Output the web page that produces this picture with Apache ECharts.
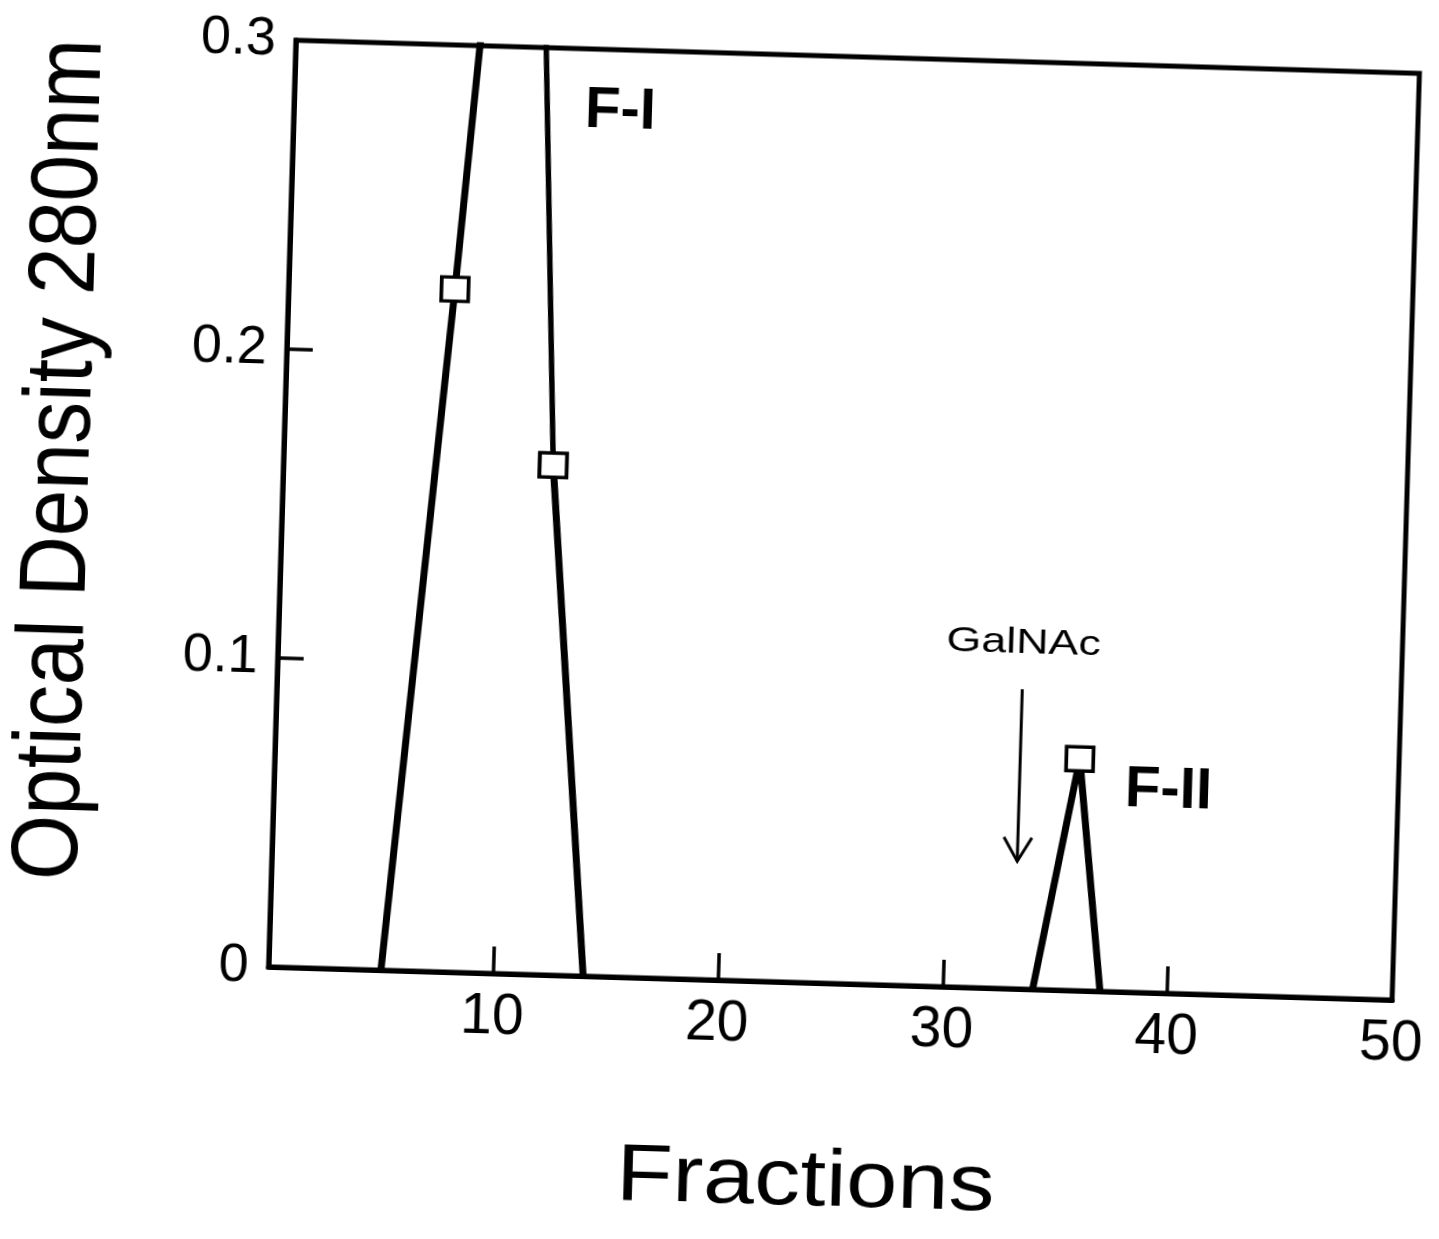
<!DOCTYPE html>
<html><head><meta charset="utf-8">
<script src="https://cdn.jsdelivr.net/npm/echarts@6/dist/echarts.min.js"></script>
<style>html,body{margin:0;background:#fff;overflow:hidden}#c{width:1439px;height:1239px;transform:rotate(1.69deg);transform-origin:50% 50%}</style></head>
<body><div id="c"></div>
<script>
// ---- data ----
const f1Fractions = [5, 7.4, 10, 12, 14];
const f1OD        = [0, 0.221, 0.48, 0.165, 0];
const f1Marked    = [false, true, false, true, false];
const f2Fractions = [34, 35.8, 37];
const f2OD        = [0, 0.075, 0];
const f2Marked    = [false, true, false];
const xTickLabels = ['', '10', '20', '30', '40', '50'];
const yTickLabels = ['0', '0.1', '0.2', '0.3'];
const peakLabels  = [{text: 'F-I', x: 12.95, y: 0.28}, {text: 'F-II', x: 37.85, y: 0.0655}];
const arrowNote   = {text: 'GalNAc', x: 33.15, yText: 0.112, yFrom: 0.097, yTo: 0.0413};
const xTitle = 'Fractions';
const yTitle = 'Optical Density 280nm';

const FONT = 'Liberation Sans';
function build(xs, ys, marks, a, b) {
  const out = [];
  for (let i = a; i <= b; i++) out.push({value: [xs[i], ys[i]], symbol: marks[i] ? 'rect' : 'none'});
  return out;
}
const chart = echarts.init(document.getElementById('c'), null, {renderer: 'canvas'});
const itemStyle = {color: '#fff', borderColor: '#000', borderWidth: 3.5};
const common = {type: 'line', symbolSize: [27, 24], showAllSymbol: true, itemStyle, clip: true, z: 3};
chart.setOption({
  backgroundColor: '#fff',
  animation: false,
  grid: {left: 279, right: 36, top: 53, bottom: 259, show: true, borderColor: '#000', borderWidth: 5, backgroundColor: 'transparent'},
  xAxis: {
    type: 'value', min: 0, max: 50, interval: 10,
    axisLine: {show: true, lineStyle: {color: '#000', width: 5}},
    axisTick: {show: true, inside: true, length: 27, lineStyle: {color: '#000', width: 3.5}},
    axisLabel: {margin: 16, fontFamily: FONT, fontSize: 57, color: '#000',
      formatter: v => xTickLabels[Math.round(v / 10)] || ''},
    splitLine: {show: false}
  },
  yAxis: {
    type: 'value', min: 0, max: 0.3, interval: 0.1,
    axisLine: {show: true, lineStyle: {color: '#000', width: 5}},
    axisTick: {show: true, inside: true, length: 26, lineStyle: {color: '#000', width: 3.5}},
    axisLabel: {margin: 20, fontFamily: FONT, fontSize: 54, color: '#000',
      formatter: v => yTickLabels[Math.round(v * 10)] || ''},
    splitLine: {show: false}
  },
  series: [
    Object.assign({}, common, {name: 'F-I rise', data: build(f1Fractions, f1OD, f1Marked, 0, 2), lineStyle: {color: '#000', width: 7}, z: 2}),
    Object.assign({}, common, {name: 'F-I fall top', data: build(f1Fractions, f1OD, f1Marked, 2, 3), lineStyle: {color: '#000', width: 5.5}, z: 2}),
    Object.assign({}, common, {name: 'F-I fall', data: build(f1Fractions, f1OD, f1Marked, 3, 4), lineStyle: {color: '#000', width: 7}, z: 2}),
    Object.assign({}, common, {name: 'F-II', data: build(f2Fractions, f2OD, f2Marked, 0, 2), lineStyle: {color: '#000', width: 7}})
  ]
});

const px = (x, y) => chart.convertToPixel({gridIndex: 0}, [x, y]);
const g = [];
peakLabels.forEach(l => {
  const p = px(l.x, l.y);
  g.push({type: 'text', x: p[0], y: p[1], style: {text: l.text, font: 'bold 58px "' + FONT + '"', fill: '#000', verticalAlign: 'middle', align: 'left'}});
});
const pt = px(arrowNote.x, arrowNote.yText);
g.push({type: 'text', x: pt[0], y: pt[1], scaleX: 1.28, style: {text: arrowNote.text, font: '35px "' + FONT + '"', fill: '#000', align: 'center', verticalAlign: 'middle'}});
const a1 = px(arrowNote.x, arrowNote.yFrom), a2 = px(arrowNote.x, arrowNote.yTo);
g.push({type: 'line', shape: {x1: a1[0], y1: a1[1], x2: a2[0], y2: a2[1]}, style: {stroke: '#000', lineWidth: 3}});
g.push({type: 'polyline', shape: {points: [[a2[0] - 14, a2[1] - 24], [a2[0], a2[1]], [a2[0] + 14, a2[1] - 24]]}, style: {stroke: '#000', lineWidth: 3, fill: null}});
// axis titles
g.push({type: 'text', x: 822, y: 1180, scaleX: 1.15, style: {text: xTitle, font: '80px "' + FONT + '"', fill: '#000', align: 'center', verticalAlign: 'middle'}});
g.push({type: 'text', x: 58, y: 479, rotation: Math.PI / 2, scaleX: 0.89, style: {text: yTitle, font: '94px "' + FONT + '"', fill: '#000', align: 'center', verticalAlign: 'middle'}});
chart.setOption({graphic: g});
</script>
</body></html>
